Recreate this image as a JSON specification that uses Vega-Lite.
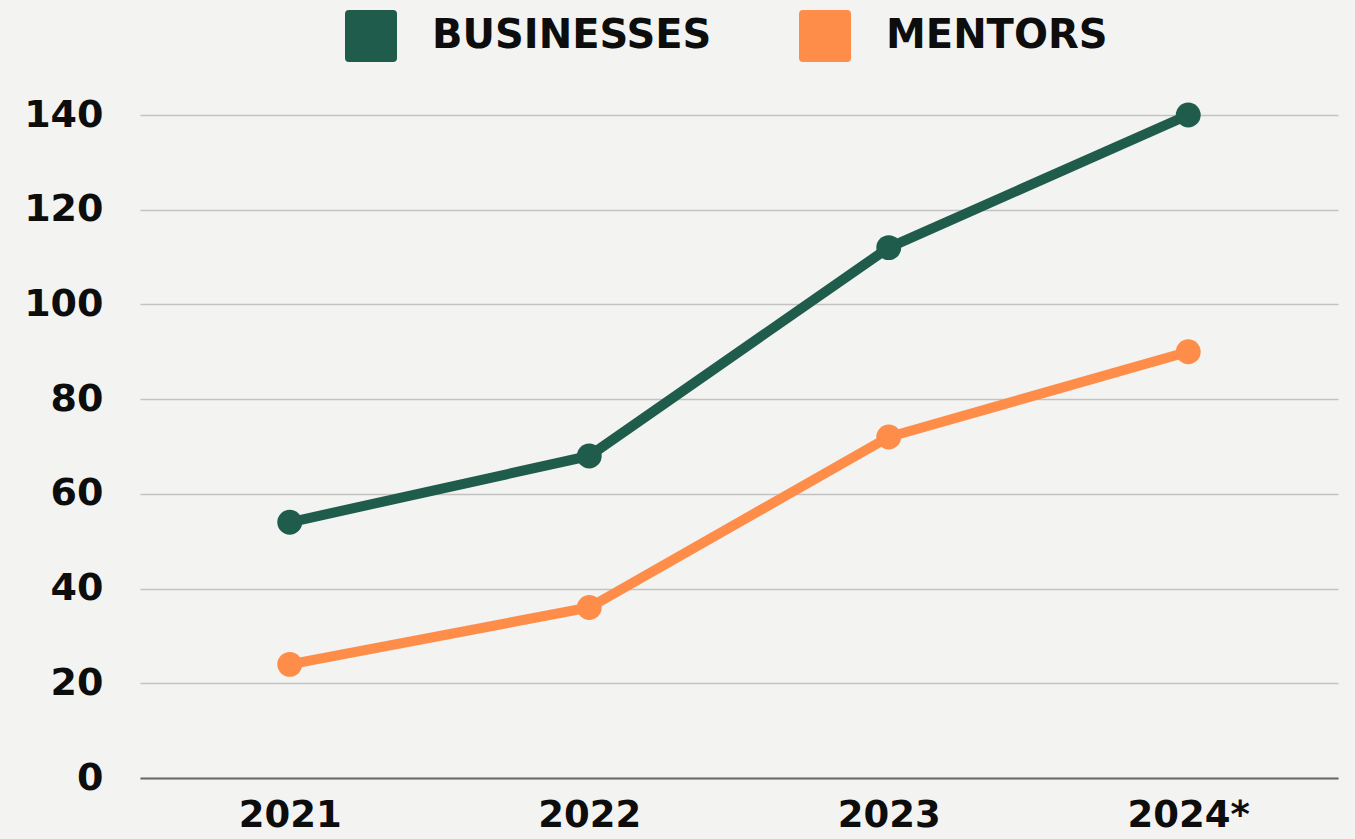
{
  "$schema": "https://vega.github.io/schema/vega-lite/v6.json",
  "width": 1198,
  "height": 663,
  "autosize": {"type": "none"},
  "padding": {"left": 140, "top": 115, "right": 17, "bottom": 61},
  "background": "#f3f3f2",
  "config": {
    "view": {"stroke": null},
    "font": "DejaVu Sans",
    "axis": {
      "labelFont": "DejaVu Sans",
      "labelFontWeight": "bold",
      "labelFontSize": 38,
      "labelColor": "#0d0d0d",
      "ticks": false,
      "title": null
    }
  },
  "data": {
    "values": [
      {"year": "2021", "series": "BUSINESSES", "value": 54},
      {"year": "2022", "series": "BUSINESSES", "value": 68},
      {"year": "2023", "series": "BUSINESSES", "value": 112},
      {"year": "2024*", "series": "BUSINESSES", "value": 140},
      {"year": "2021", "series": "MENTORS", "value": 24},
      {"year": "2022", "series": "MENTORS", "value": 36},
      {"year": "2023", "series": "MENTORS", "value": 72},
      {"year": "2024*", "series": "MENTORS", "value": 90}
    ]
  },
  "encoding": {
    "x": {
      "field": "year",
      "type": "ordinal",
      "scale": {"type": "point", "padding": 0.5},
      "axis": {
        "labelAngle": 0,
        "labelPadding": 19,
        "labelFontSize": 37,
        "domainColor": "#6a6a6a",
        "domainWidth": 2,
        "grid": false
      }
    },
    "y": {
      "field": "value",
      "type": "quantitative",
      "scale": {"domain": [0, 140], "nice": false},
      "axis": {
        "values": [0, 20, 40, 60, 80, 100, 120, 140],
        "domain": false,
        "grid": true,
        "gridColor": "#c2c2c2",
        "gridWidth": 1.5,
        "labelPadding": 37
      }
    },
    "color": {
      "field": "series",
      "type": "nominal",
      "scale": {"domain": ["BUSINESSES", "MENTORS"], "range": ["#1f5c4b", "#ff8d4a"]},
      "legend": {
        "title": null,
        "orient": "none",
        "direction": "horizontal",
        "legendX": 205,
        "legendY": -105,
        "padding": 0,
        "symbolType": "M-0.85,-1 L0.85,-1 Q1,-1 1,-0.85 L1,0.85 Q1,1 0.85,1 L-0.85,1 Q-1,1 -1,0.85 L-1,-0.85 Q-1,-1 -0.85,-1 Z",
        "symbolSize": 2704,
        "symbolStrokeWidth": 0,
        "symbolOpacity": 1,
        "labelFont": "DejaVu Sans",
        "labelFontWeight": "bold",
        "labelFontSize": 40,
        "labelColor": "#0d0d0d",
        "labelOffset": 35,
        "labelLimit": 400,
        "columnPadding": 87
      }
    }
  },
  "layer": [
    {"mark": {"type": "line", "strokeWidth": 10}},
    {"mark": {"type": "point", "filled": true, "opacity": 1, "size": 620, "shape": "circle"}}
  ]
}
